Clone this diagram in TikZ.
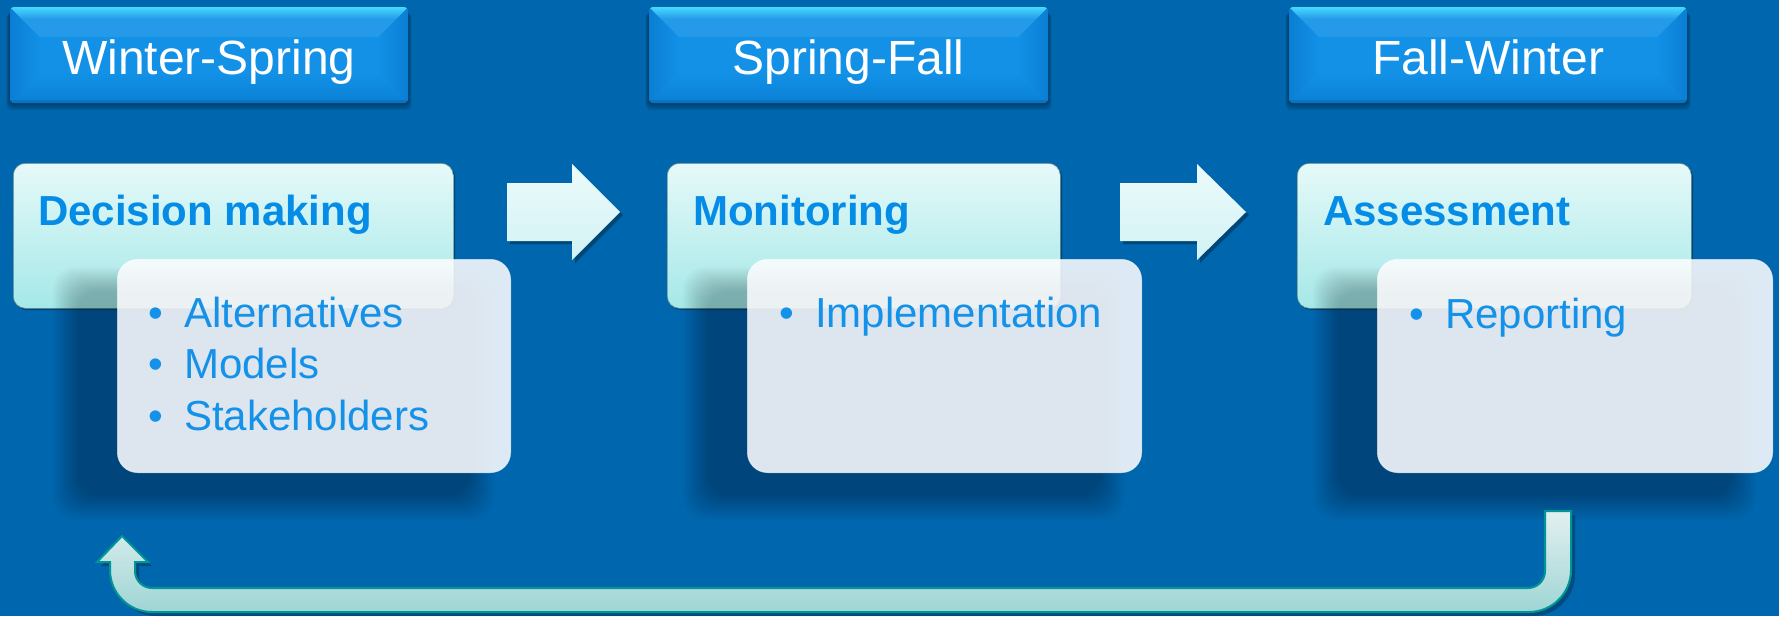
\documentclass[tikz,border=0pt]{standalone}
\usepackage{fontspec}
\setmainfont{Liberation Sans}
\definecolor{bg}{RGB}{0,102,173}
\definecolor{hdrmain}{RGB}{18,145,230}
\definecolor{hdrtop}{RGB}{70,218,255}
\definecolor{hdrside}{RGB}{10,126,212}
\definecolor{hdrbot}{RGB}{10,128,214}
\definecolor{ttltop}{RGB}{230,249,249}
\definecolor{ttlbot}{RGB}{165,232,232}
\definecolor{ttlblue}{RGB}{5,140,230}
\definecolor{bulblue}{RGB}{20,145,232}
\definecolor{bulfill}{RGB}{252,252,254}
\definecolor{arrtop}{RGB}{236,251,251}
\definecolor{arrbot}{RGB}{210,242,244}
\definecolor{rettop}{RGB}{228,240,240}
\definecolor{retbot}{RGB}{158,213,213}
\definecolor{retborder}{RGB}{0,150,150}
\tikzset{
  hdrtext/.style={text=white, font=\fontsize{48}{56}\selectfont, inner sep=0pt, anchor=base},
  ttltext/.style={text=ttlblue, font=\bfseries\fontsize{42}{50}\selectfont, inner sep=0pt, anchor=base west},
  bultext/.style={text=bulblue, font=\fontsize{42}{50}\selectfont, inner sep=0pt, anchor=base west},
  ttlbox/.style={rounded corners=12, top color=ttltop, bottom color=ttlbot, draw=ttlbot!60!black, line width=0.6pt, anchor=north west, inner sep=0pt},
  bulbox/.style={rounded corners=20, fill=bulfill, fill opacity=0.88, draw=white, draw opacity=0.6, line width=1pt, anchor=north west, inner sep=0pt},
  blockarrow/.style={top color=arrtop, bottom color=arrbot},
}
\newcommand\hdrbox[3]{%
  \begin{scope}[shift={(#1,#2)}]
    \foreach \e in {1,...,6}
      \fill[black, opacity=0.07, rounded corners=6] ({-\e*0.6},{3+\e*0.4}) rectangle ({#3+\e*0.6},{96+\e*1.2});
    \begin{scope}
      \clip[rounded corners=4] (0,0) rectangle (#3,96);
      \fill[hdrmain] (0,0) rectangle (#3,96);
      \shade[left color=hdrside, right color=hdrmain] (0,0) -- (30,30) -- (30,66) -- (0,96) -- cycle;
      \shade[left color=hdrmain, right color=hdrside] (#3,0) -- ({#3-30},30) -- ({#3-30},66) -- (#3,96) -- cycle;
      \fill[hdrmain!92!white] (0,0) -- (#3,0) -- ({#3-30},30) -- (30,30) -- cycle;
      \shade[top color=hdrtop, bottom color=hdrmain!92!white] (0,0) -- (#3,0) -- ({#3-12},12) -- (12,12) -- cycle;
      \shade[top color=hdrmain, bottom color=hdrbot] (0,96) -- (30,66) -- ({#3-30},66) -- (#3,96) -- cycle;
      \fill[hdrbot!80!black, opacity=0.5] (0,93) rectangle (#3,96);
    \end{scope}
  \end{scope}}
\newcommand\softshadow[4]{%
  \foreach \e in {0,...,15}
    \fill[black, opacity=0.017, rounded corners=22]
      ({#1-40-\e*1.6},{#2+32-\e*1.6}) rectangle ({#3-40+\e*1.6},{#4+24+\e*1.6});}
\begin{document}
\begin{tikzpicture}[x=1pt, y=-1pt]
\useasboundingbox (0,0) rectangle (1779,616);
\fill[bg] (0,0) rectangle (1779,616);

% headers
\hdrbox{10}{7}{398}
\hdrbox{649}{7}{399}
\hdrbox{1289}{7}{398}
\node[hdrtext] (h1) at (209,74) {Winter-Spring};
\node[hdrtext] (h2) at (848.5,74) {Spring-Fall};
\node[hdrtext] (h3) at (1488,74) {Fall-Winter};

% title boxes
\foreach \x/\w in {13/440, 667/393, 1297/394}
  \fill[black, opacity=0.3, rounded corners=12] ({\x+1.5},165) rectangle ({\x+\w+2},310);
\node[ttlbox, minimum width=440, minimum height=145] (t1) at (13,163) {};
\node[ttlbox, minimum width=393, minimum height=145] (t2) at (667,163) {};
\node[ttlbox, minimum width=394, minimum height=145] (t3) at (1297,163) {};
\node[ttltext] (t1x) at (38,225) {Decision making};
\node[ttltext] (t2x) at (693,225) {Monitoring};
\node[ttltext] (t3x) at (1323,225) {Assessment};

% bullet boxes with soft shadows
\softshadow{117}{259}{510}{472}
\softshadow{747}{259}{1141}{472}
\softshadow{1377}{259}{1772}{472}
\node[bulbox, minimum width=393, minimum height=213] (b1) at (117,259) {};
\node[bulbox, minimum width=394, minimum height=213] (b2) at (747,259) {};
\node[bulbox, minimum width=395, minimum height=213] (b3) at (1377,259) {};

\node[bultext] (b1a) at (148,327) {\makebox[36pt][l]{•}Alternatives};
\node[bultext] (b1b) at (148,378.5) {\makebox[36pt][l]{•}Models};
\node[bultext] (b1c) at (148,430) {\makebox[36pt][l]{•}Stakeholders};
\node[bultext] (b2a) at (779,327) {\makebox[36pt][l]{•}Implementation};
\node[bultext] (b3a) at (1409,328) {\makebox[36pt][l]{•}Reporting};

% block arrows
\fill[black, opacity=0.3] (510,186) -- (575,186) -- (575,167) -- (623,215) -- (575,263) -- (575,244) -- (510,244) -- cycle;
\path[blockarrow] (507,183) -- (572,183) -- (572,164) -- (620,212) -- (572,260) -- (572,241) -- (507,241) -- cycle;
\fill[black, opacity=0.3] (1123,186) -- (1200,186) -- (1200,167) -- (1249,215) -- (1200,263) -- (1200,244) -- (1123,244) -- cycle;
\path[blockarrow] (1120,183) -- (1197,183) -- (1197,164) -- (1246,212) -- (1197,260) -- (1197,241) -- (1120,241) -- cycle;

% return arrow
\coordinate (rs) at (1558,511);
\coordinate (re) at (122,536);
\fill[black, opacity=0.25] (1549,515) -- (1575,515) -- (1575,574) .. controls (1575,597.2) and (1556.2,616) .. (1533,616) -- (156,616) .. controls (132.8,616) and (114,597.2) .. (114,574) -- (114,566) -- (101,566) -- (126,540) -- (152,566) -- (139,566) -- (139,575) .. controls (139,584.4) and (146.6,592) .. (156,592) -- (1532,592) .. controls (1541.4,592) and (1549,584.4) .. (1549,575) -- cycle;
\path[top color=rettop, bottom color=retbot, draw=retborder, line width=2pt, line join=miter]
  (1545,511) -- (1571,511) -- (1571,570) .. controls (1571,593.2) and (1552.2,612) .. (1529,612)
  -- (152,612) .. controls (128.8,612) and (110,593.2) .. (110,570)
  -- (110,562) -- (97,562) -- (re) -- (148,562) -- (135,562)
  -- (135,571) .. controls (135,580.4) and (142.6,588) .. (152,588)
  -- (1528,588) .. controls (1537.4,588) and (1545,580.4) .. (1545,571) -- cycle;
\end{tikzpicture}
\end{document}
